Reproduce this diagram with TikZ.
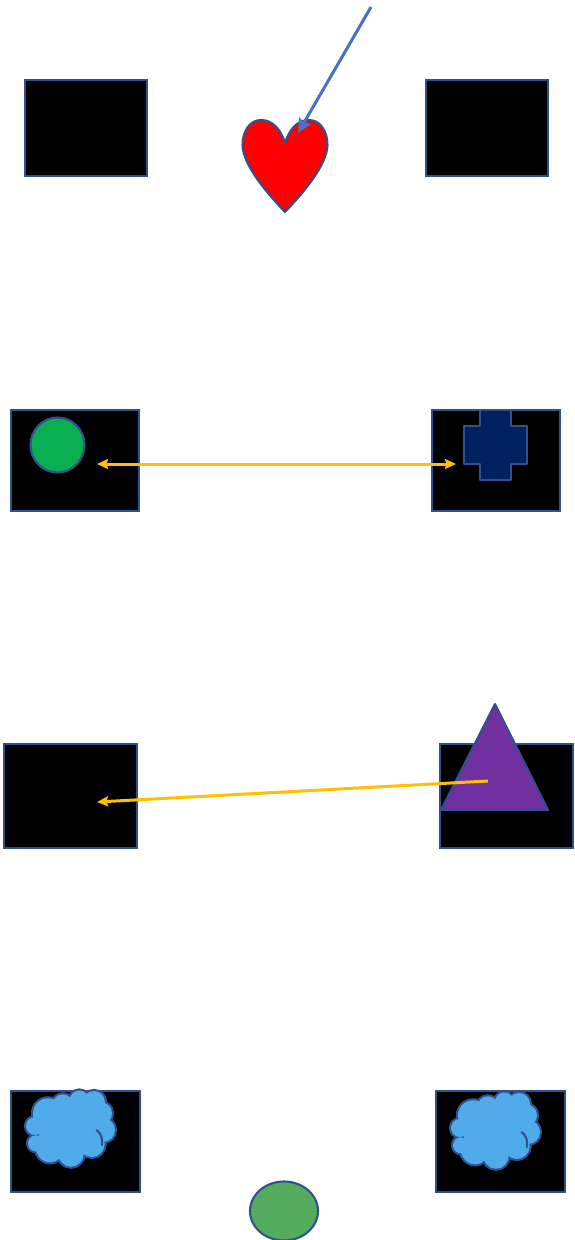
\documentclass[tikz,border=0pt]{standalone}
\usetikzlibrary{arrows.meta,shapes.geometric}
\definecolor{edgeblue}{HTML}{2F528F}
\definecolor{linkblue}{HTML}{4472C4}
\definecolor{linkyellow}{HTML}{FFC000}
\definecolor{cloudblue}{HTML}{4FABEA}
\definecolor{dotgreen}{HTML}{08AE50}
\definecolor{eggreen}{HTML}{52AC5C}
\definecolor{crossnavy}{HTML}{002060}
\definecolor{tripurple}{HTML}{7030A0}
\tikzset{
  blackbox/.style={draw=edgeblue,fill=black,line width=2.1pt,inner sep=0pt,outer sep=0pt},
  shapeline/.style={draw=edgeblue,line width=2.1pt,line join=round},
  yellowlink/.style={draw=linkyellow,line width=3pt},
  yellowhead/.tip={Stealth[length=11pt,width=10pt,inset=1.5pt]}
}
\newcommand{\boxnode}[5]{\node[blackbox,anchor=north west,minimum width=#4pt,minimum height=#5pt] (#1) at (#2,#3) {};}
\newcommand{\cloudpath}{%
  (48,1113.3) circle (15) (62.7,1104.3) circle (10) (79.3,1100) circle (9.5)
  (94,1102) circle (11) (101,1113.3) circle (11) (103,1130) circle (12)
  (91.7,1144) circle (13) (71,1154) circle (12.7) (50,1148.3) circle (14)
  (36,1143.3) circle (8) (35,1126) circle (9)
  (66.7,1130) circle (28) (83,1130) circle (23)}
\newcommand{\cloudshape}[2]{%
  \begin{scope}[shift={(#1,#2)}]
    \draw[edgeblue,line width=4.2pt] \cloudpath;
    \fill[cloudblue] \cloudpath;
    \draw[shapeline,line cap=round] (96.5,1130) .. controls (101,1133) and (103,1139) .. (102,1145);
  \end{scope}}
\begin{document}
\begin{tikzpicture}[x=1pt,y=-1pt]
\useasboundingbox (0,0) rectangle (574,1240);
\fill[white] (0,0) rectangle (574,1240);
\boxnode{a1}{25}{80}{122}{96}
\boxnode{a2}{426}{80}{122}{96}
\boxnode{b1}{11}{410}{128}{101}
\boxnode{b2}{432}{410}{128}{101}
\boxnode{c1}{4}{744}{133}{104}
\boxnode{c2}{440}{744}{133}{104}
\boxnode{d1}{11}{1091}{129}{101}
\boxnode{d2}{436}{1091}{129}{101}
% heart
\draw[shapeline,fill=red] (285,143)
  .. controls (281,130) and (273,120) .. (261,120)
  .. controls (250,120) and (242.5,131) .. (242.5,145)
  .. controls (243,165) and (266,192) .. (285,212)
  .. controls (304,192) and (327,165) .. (327.5,145)
  .. controls (327.5,131) and (320,120) .. (309,120)
  .. controls (297,120) and (289,130) .. (285,143) -- cycle;
% circle
\node[shapeline,ellipse,inner sep=0pt,minimum width=54pt,minimum height=55pt,fill=dotgreen] (dot) at (57.5,445) {};
% cross
\draw[shapeline,fill=crossnavy] (480,410) -- (511,410) -- (511,426) -- (527,426) -- (527,464) -- (511,464) -- (511,480) -- (480,480) -- (480,464) -- (464,464) -- (464,426) -- (480,426) -- cycle;
% triangle
\draw[shapeline,fill=tripurple] (495,704) -- (548,810) -- (441,810) -- cycle;
% clouds
\cloudshape{0}{0}
\cloudshape{425}{2}
% ellipse
\node[shapeline,ellipse,inner sep=0pt,minimum width=68pt,minimum height=59pt,fill=eggreen] (egg) at (284,1211) {};
% connectors
\coordinate (blueStart) at (371,7);
\coordinate (heartPoint) at (298,133);
\coordinate (leftMid) at (97,464);
\coordinate (rightMid) at (456,464);
\coordinate (triInner) at (488,781);
\coordinate (lowLeft) at (97,802);
\draw[draw=linkblue,line width=3pt,-{Stealth[length=14pt,width=13pt,inset=2pt]}] (blueStart) -- (heartPoint);
\draw[yellowlink,yellowhead-yellowhead] (leftMid) -- (rightMid);
\draw[yellowlink,yellowhead-] (lowLeft) -- (triInner);
\end{tikzpicture}
\end{document}
